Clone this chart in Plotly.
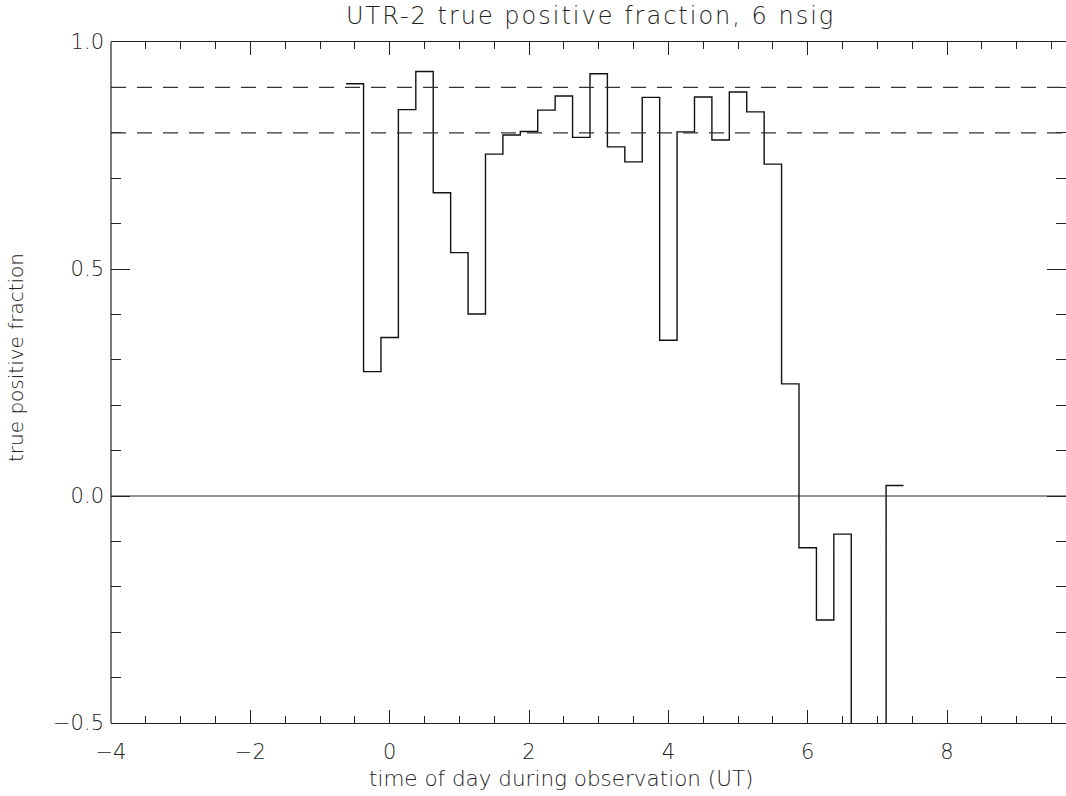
import plotly.graph_objects as go

# ---- data ----
bin_width = 0.25
bin_centers = [-0.5 + bin_width * i for i in range(32)]
tp_fraction = [0.908, 0.274, 0.349, 0.851, 0.935, 0.668, 0.536, 0.401,
               0.753, 0.795, 0.803, 0.850, 0.881, 0.790, 0.930, 0.769,
               0.736, 0.878, 0.343, 0.802, 0.879, 0.784, 0.890, 0.846,
               0.731, 0.247, -0.114, -0.273, -0.084, -1.0, -1.0, 0.023]
ref_levels = [0.9, 0.8]
zero_level = 0.0
x_ticks = [-4, -2, 0, 2, 4, 6, 8]
y_ticks = [-0.5, 0.0, 0.5, 1.0]

title_text = "UTR-2 true positive fraction, 6 nsig"
xlabel_text = "time of day during observation (UT)"
ylabel_text = "true positive fraction"

# histogram-style steps: horizontal segment centred on each bin
x_edges = [c - bin_width / 2 for c in bin_centers] + [bin_centers[-1] + bin_width / 2]
y_steps = tp_fraction + [tp_fraction[-1]]

FONT = "DejaVu Sans"
TXT = "#222222"
AX = "#222222"

fig = go.Figure()
fig.add_trace(go.Scatter(x=x_edges, y=y_steps, mode="lines",
                         line=dict(shape="hv", color="#111111", width=1.4),
                         showlegend=False, hoverinfo="skip"))

for lv in ref_levels:
    fig.add_hline(y=lv, line=dict(color="#333333", width=1.2, dash="15px,11px"))
fig.add_hline(y=zero_level, line=dict(color="#222222", width=1.2))

# left axis line (the right-hand frame edge lies just outside the picture)
fig.add_shape(type="line", xref="paper", yref="paper", x0=0, x1=0, y0=0, y1=1,
              line=dict(color=AX, width=1.2))

W, H = 1066, 796
L, R, T, B = 111, 0, 42, 73
pw, ph = W - L - R, H - T - B

def px(xp):
    return (xp - L) / pw

def py(yp):
    return (H - B - yp) / ph

tickfont = dict(family=FONT, size=21, color=TXT, weight=200)

fig.update_xaxes(range=[-4, -4 + pw / 69.67], tickvals=x_ticks, ticklen=13,
                 showline=True, linecolor=AX, linewidth=1.2, mirror="ticks",
                 ticks="inside", tickcolor=AX, tickwidth=1.2,
                 minor=dict(dtick=0.5, ticklen=7, ticks="inside", tickcolor=AX, tickwidth=1.2),
                 showgrid=False, zeroline=False, tickfont=tickfont, ticklabelstandoff=10)
fig.update_yaxes(range=[-0.5, 1.0], tickvals=y_ticks, tickformat=".1f", ticklen=19,
                 showline=False, mirror="ticks",
                 ticks="inside", tickcolor=AX, tickwidth=1.2,
                 minor=dict(dtick=0.1, ticklen=10, ticks="inside", tickcolor=AX, tickwidth=1.2),
                 showgrid=False, zeroline=False, tickfont=tickfont, ticklabelstandoff=6)

fig.add_annotation(text="<span style='letter-spacing:2px'>" + title_text + "</span>",
                   xref="paper", yref="paper", x=px(590), y=py(0),
                   xanchor="center", yanchor="top", showarrow=False,
                   font=dict(family=FONT, size=24, color=TXT, weight=200))
fig.add_annotation(text=xlabel_text, xref="paper", yref="paper", x=px(561), y=py(778),
                   xanchor="center", yanchor="middle", showarrow=False,
                   font=dict(family=FONT, size=21.5, color=TXT, weight=200))
fig.add_annotation(text=ylabel_text, xref="paper", yref="paper", x=px(16), y=py(358),
                   xanchor="center", yanchor="middle", showarrow=False, textangle=-90,
                   font=dict(family=FONT, size=20, color=TXT, weight=200))

fig.update_layout(width=W, height=H, margin=dict(l=L, r=R, t=T, b=B, autoexpand=False),
                  paper_bgcolor="white", plot_bgcolor="white", showlegend=False)

fig.write_html("out.html", config={"displayModeBar": False},
               post_script="document.body.style.margin='0';document.body.style.overflow='hidden';")
